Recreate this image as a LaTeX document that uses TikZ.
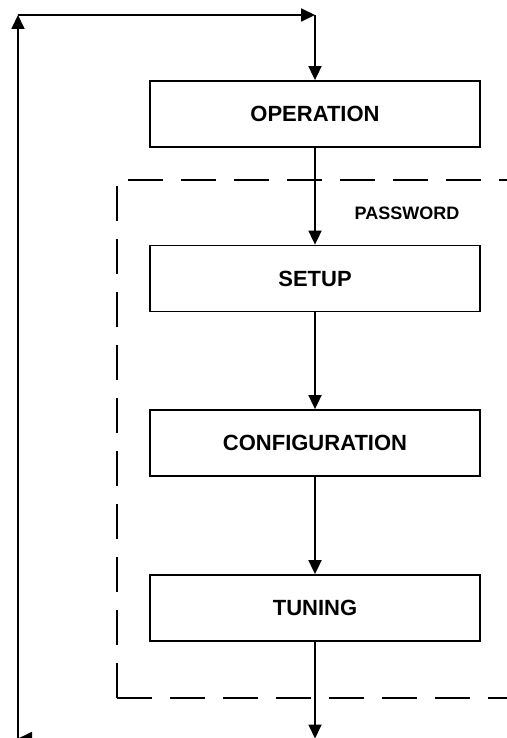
\documentclass[tikz,border=0pt]{standalone}
\usepackage{fontspec}
\setmainfont{Liberation Sans}
\usetikzlibrary{arrows.meta}
\tikzset{>={Triangle[length=14pt,width=13pt]}}

\begin{document}
\begin{tikzpicture}[x=1pt, y=-1pt, line width=1.8pt,
    stage/.style={draw, minimum width=330pt, minimum height=66pt, inner sep=0pt,
        font=\bfseries\fontsize{22}{25}\selectfont},
    zone/.style={dash pattern=on 35pt off 18pt}]
    \useasboundingbox (0, 0) rectangle (506, 738);
    \foreach \stage/\y/\txt in {op/114/OPERATION, su/278.5/SETUP, cf/443/CONFIGURATION, tn/608/TUNING} {
        \node [stage] (\stage) at (315, \y) {\txt};
    }
    \coordinate (top right) at (315, 15);
    \coordinate (top left) at (18, 15);
    \coordinate (bot right) at (315, 738.5);
    \coordinate (bot left) at (18, 738.5);
    % password zone
    \draw[zone] (117, 698) -- (530, 698);
    \draw[zone] (117, 698) -- (117, 180);
    \draw[zone, dash phase=42pt] (117, 180) -- (530, 180);
    \node [font=\bfseries\fontsize{18}{21}\selectfont] (pwd) at (407, 213) {PASSWORD};
    % flow
    \foreach \a/\b in {op/su, su/cf, cf/tn} {
        \draw[->] (\a) -- (\b);
    }
    \draw[->] (tn) -- (bot right);
    \draw[->] (bot right) -- (bot left);
    \draw[->] (bot left) -- (top left);
    \draw[->] (top left) -- (top right);
    \draw[->] (top right) -- (op);
\end{tikzpicture}
\end{document}
